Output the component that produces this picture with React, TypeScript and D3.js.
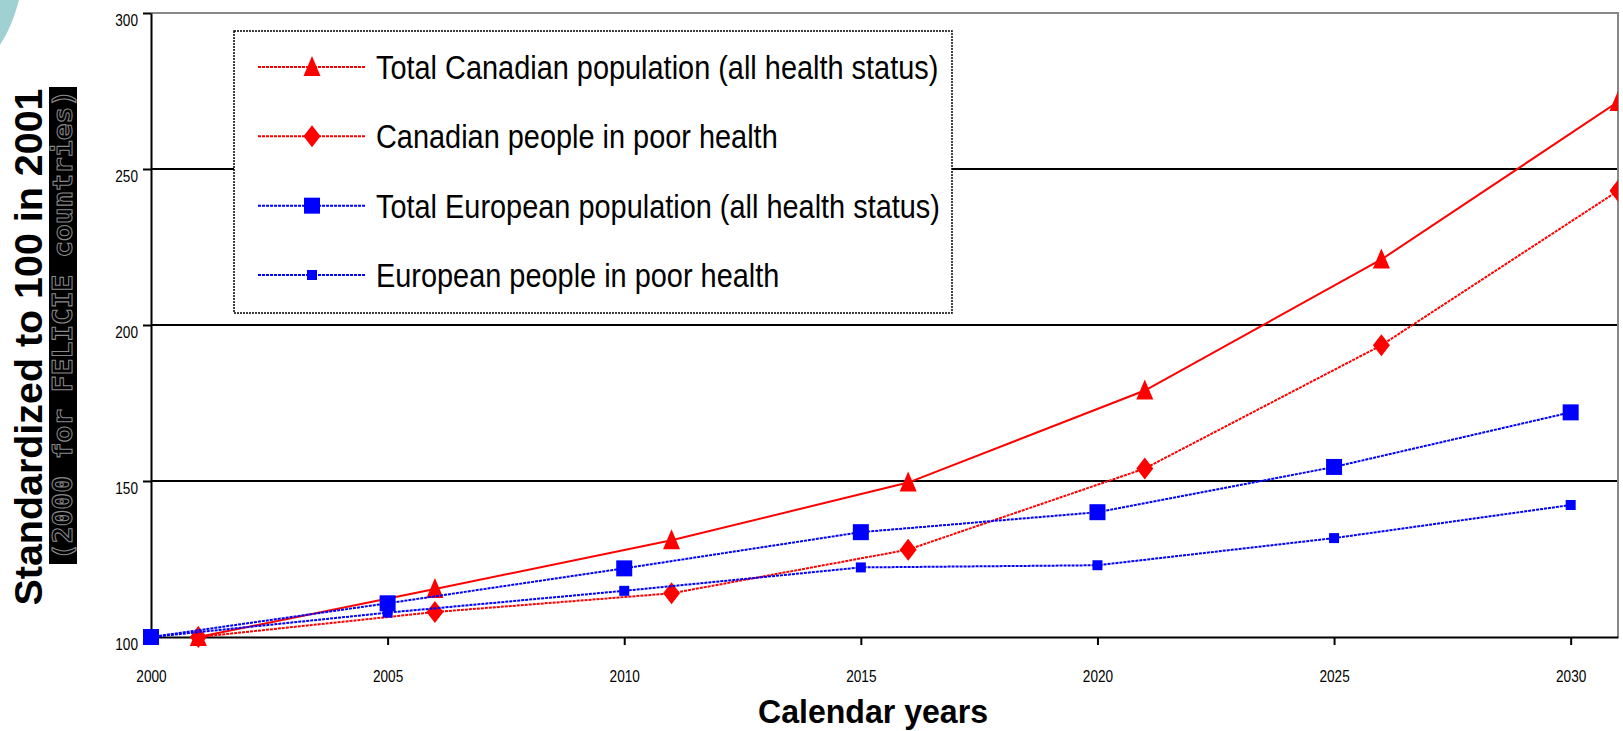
import * as d3 from "d3";
import { useEffect, useRef } from "react";

const canadaYears = [2001, 2006, 2011, 2016, 2021, 2026, 2031];
const totalCanada = [100, 115.4, 131, 149.5, 179, 221, 271.5];
const poorCanada = [100, 108, 114, 128, 154, 193.5, 243];

const europeYears = [2000, 2005, 2010, 2015, 2020, 2025, 2030];
const totalEurope = [100, 110.8, 122, 133.6, 140, 154.5, 172];
const poorEurope = [100, 107.8, 114.8, 122.3, 123, 131.7, 142.3];

const xTicks = [2000, 2005, 2010, 2015, 2020, 2025, 2030];
const yTicks = [100, 150, 200, 250, 300];
const gridValues = [150, 200, 250];

const seriesNames = [
  "Total Canadian population (all health status)",
  "Canadian people in poor health",
  "Total European population (all health status)",
  "European people in poor health",
];

type Marker = "triangle" | "diamond" | "square" | "smallSquare";

const markerPath = (m: Marker): string => {
  if (m === "triangle") return "M0,-11L8.5,9L-8.5,9Z";
  if (m === "diamond") return "M0,-11L8.5,0L0,11L-8.5,0Z";
  if (m === "square") return "M-8,-8H8V8H-8Z";
  return "M-5,-5H5V5H-5Z";
};

export default function App() {
  const ref = useRef<SVGSVGElement>(null);
  const width = 1623;
  const height = 731;
  const marginLeft = 151;
  const marginRight = 5;
  const marginTop = 13;
  const marginBottom = 94;

  useEffect(() => {
    if (!ref.current) return;
    const svg = d3.select(ref.current);
    svg.selectAll("*").remove();

    const x = d3
      .scaleLinear()
      .domain([2000, 2031])
      .range([marginLeft, width - marginRight]);
    const y = d3
      .scaleLinear()
      .domain([100, 300])
      .range([height - marginBottom, marginTop]);

    const font = "'Liberation Sans', Arial, sans-serif";

    // condense text like Arial Narrow
    const narrow = (sel: d3.Selection<any, any, any, any>, k: number) => {
      sel.each(function () {
        const t = this as SVGTextElement;
        const w = t.getComputedTextLength();
        t.setAttribute("textLength", String(w * k));
        t.setAttribute("lengthAdjust", "spacingAndGlyphs");
      });
    };

    // teal decoration in the corner
    svg
      .append("path")
      .attr("d", "M0,0L19,0Q12,27 0,45Z")
      .attr("fill", "#9fd1d3");

    // gridlines
    svg
      .append("g")
      .selectAll("line")
      .data(gridValues)
      .join("line")
      .attr("x1", marginLeft)
      .attr("x2", width - marginRight)
      .attr("y1", (d) => y(d))
      .attr("y2", (d) => y(d))
      .attr("stroke", "#000")
      .attr("stroke-width", 2);

    // plot border (top + right) in gray
    svg
      .append("path")
      .attr(
        "d",
        `M${marginLeft},${marginTop}H${width - marginRight}V${height - marginBottom}`,
      )
      .attr("fill", "none")
      .attr("stroke", "#888")
      .attr("stroke-width", 2);

    // x axis
    const gx = svg
      .append("g")
      .attr("transform", `translate(0,${height - marginBottom})`)
      .call(d3.axisBottom(x).tickValues(xTicks).tickSize(8).tickSizeOuter(0).tickFormat(d3.format("d")));
    gx.select(".domain").attr("stroke-width", 2);
    gx.selectAll(".tick line").attr("stroke-width", 2);
    const xt = gx
      .selectAll<SVGTextElement, number>(".tick text")
      .attr("y", 45)
      .attr("dy", 0)
      .attr("font-size", 17)
      .attr("font-family", font)
      .attr("fill", "#000");
    narrow(xt, 0.8);

    // y axis
    const gy = svg
      .append("g")
      .attr("transform", `translate(${marginLeft},0)`)
      .call(d3.axisLeft(y).tickValues(yTicks).tickSize(8).tickSizeOuter(0).tickPadding(5));
    gy.select(".domain").attr("stroke-width", 2);
    gy.selectAll(".tick line").attr("stroke-width", 2);
    const yt = gy
      .selectAll<SVGTextElement, number>(".tick text")
      .attr("dy", 12)
      .attr("font-size", 17)
      .attr("font-family", font)
      .attr("fill", "#000");
    narrow(yt, 0.8);

    // axis titles
    svg
      .append("text")
      .attr("x", 873)
      .attr("y", 723)
      .attr("text-anchor", "middle")
      .attr("font-family", font)
      .attr("font-weight", "bold")
      .attr("font-size", 34)
      .attr("textLength", 230)
      .attr("lengthAdjust", "spacingAndGlyphs")
      .text("Calendar years");

    svg
      .append("text")
      .attr("transform", `translate(42,347) rotate(-90)`)
      .attr("text-anchor", "middle")
      .attr("font-family", font)
      .attr("font-weight", "bold")
      .attr("font-size", 38)
      .attr("textLength", 517)
      .attr("lengthAdjust", "spacingAndGlyphs")
      .text("Standardized to 100 in 2001");

    svg
      .append("rect")
      .attr("x", 49)
      .attr("y", 87)
      .attr("width", 28)
      .attr("height", 477)
      .attr("fill", "#000");
    svg
      .append("text")
      .attr("transform", `translate(72,325) rotate(-90)`)
      .attr("text-anchor", "middle")
      .attr("font-family", "'DejaVu Sans Mono', monospace")
      .attr("font-weight", "bold")
      .attr("font-size", 26)
      .attr("fill", "#000")
      .attr("stroke", "#8a8a8a")
      .attr("stroke-width", 1)
      .attr("textLength", 470)
      .attr("lengthAdjust", "spacingAndGlyphs")
      .text("(2000 for FELICIE countries)");

    // series
    const series = [
      { years: canadaYears, values: totalCanada, color: "#ff0000", dash: null, marker: "triangle" as Marker },
      { years: canadaYears, values: poorCanada, color: "#ff0000", dash: "3,1", marker: "diamond" as Marker },
      { years: europeYears, values: totalEurope, color: "#0000ff", dash: "3,1", marker: "square" as Marker },
      { years: europeYears, values: poorEurope, color: "#0000ff", dash: "3,1", marker: "smallSquare" as Marker },
    ];

    svg
      .append("clipPath")
      .attr("id", "plot-clip")
      .append("rect")
      .attr("x", 0)
      .attr("y", 0)
      .attr("width", width - marginRight)
      .attr("height", height);

    const line = d3
      .line<[number, number]>()
      .x((d) => x(d[0]))
      .y((d) => y(d[1]));

    const plot = svg.append("g").attr("clip-path", "url(#plot-clip)");
    series.forEach((s) => {
      const pts = s.years.map((yr, i) => [yr, s.values[i]] as [number, number]);
      plot
        .append("path")
        .datum(pts)
        .attr("d", line)
        .attr("fill", "none")
        .attr("stroke", s.color)
        .attr("stroke-width", 2)
        .attr("stroke-dasharray", s.dash);
      plot
        .append("g")
        .selectAll("path")
        .data(pts)
        .join("path")
        .attr("d", markerPath(s.marker))
        .attr("transform", (d) => `translate(${x(d[0])},${y(d[1])})`)
        .attr("fill", s.color);
    });

    // legend
    const legend = svg.append("g");
    legend
      .append("rect")
      .attr("x", 234)
      .attr("y", 31)
      .attr("width", 718)
      .attr("height", 282)
      .attr("fill", "#fff")
      .attr("stroke", "#000")
      .attr("stroke-width", 1.5)
      .attr("stroke-dasharray", "2,1");

    const rowY = d3.scalePoint<number>().domain([0, 1, 2, 3]).range([67, 275]);
    series.forEach((s, i) => {
      const g = legend.append("g").attr("transform", `translate(0,${rowY(i)})`);
      g.append("line")
        .attr("x1", 258)
        .attr("x2", 365)
        .attr("stroke", s.color)
        .attr("stroke-width", 2)
        .attr("stroke-dasharray", "3,1");
      g.append("path").attr("d", markerPath(s.marker)).attr("transform", "translate(312,0)").attr("fill", s.color);
      const t = g
        .append("text")
        .attr("x", 376)
        .attr("y", 12)
        .attr("font-family", font)
        .attr("font-size", 34)
        .attr("fill", "#000")
        .text(seriesNames[i]);
      narrow(t, 0.85);
    });
  }, []);

  return (
    <svg
      ref={ref}
      width={width}
      height={height}
      style={{ position: "absolute", left: 0, top: 0, display: "block", background: "#fff" }}
    />
  );
}
